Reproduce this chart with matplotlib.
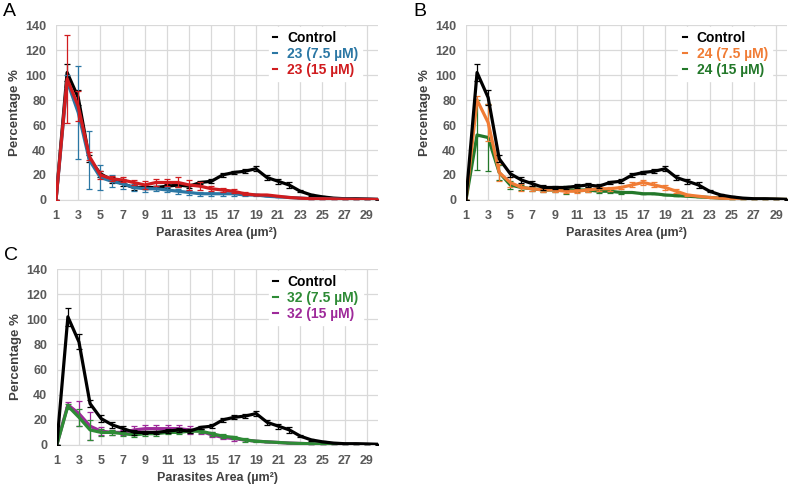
import numpy as np
from matplotlib import pyplot as plt
from matplotlib.lines import Line2D

plt.rcParams['font.family'] = ['Liberation Sans', 'DejaVu Sans']

# parasite area categories (um^2)
area = np.arange(1, 31)

# Control (same in every panel)
control = [0, 102, 82, 33, 21, 16, 13, 10, 10, 10, 11, 12, 11, 14, 15,
           20, 22, 23, 25, 18, 15, 12, 7, 4, 2.5, 1.5, 1, 1, 0.8, 0.5]
control_err = [0, 7, 6, 3, 2.5, 2.5, 2, 2, 1.5, 1.5, 1.5, 1.5, 1.5, 1.5, 1.5,
               1.5, 1.5, 1.5, 2, 2, 2, 2.5, 1, 0.5, 0.5, 0.3, 0.3, 0.3, 0.3, 0.3]

# Panel A: compound 23
c23_lo = [0, 95, 70, 32, 18, 15, 13, 10, 9, 9, 8, 7, 6, 5, 5,
          5, 5, 4, 4, 3, 2.5, 2, 1.5, 1, 1, 0.8, 0.6, 0.5, 0.5, 0.4]
c23_lo_err = [0, 5, 37, 23, 10, 5, 4, 3, 3, 2, 2, 2, 2, 1.5, 1.5,
              1.5, 1.5, 1, 1, 0, 0, 0, 0, 0, 0, 0, 0, 0, 0, 0]
c23_hi = [0, 97, 75, 35, 20, 17, 16, 14, 12, 14, 14, 14, 12, 11, 9,
          8, 7, 5, 4, 4, 3, 2, 1.5, 1, 1, 0.8, 0.6, 0.5, 0.5, 0.4]
c23_hi_err = [0, 35, 12, 3, 3, 2, 2, 2, 3, 3, 3, 4, 4, 3, 2,
              1.5, 1.5, 1, 0, 0, 0, 0, 0, 0, 0, 0, 0, 0, 0, 0]

# Panel B: compound 24
c24_lo = [0, 80, 62, 22, 14, 10, 9, 8, 8, 7, 7, 8, 9, 9, 10,
          12, 14, 12, 10, 7, 4, 3, 2, 1.5, 1, 0.8, 0.6, 0.5, 0.5, 0.4]
c24_lo_err = [0, 3, 15, 7, 4, 3, 2, 1.5, 1.5, 1.5, 1.5, 1.5, 1.5, 1.5, 1.5,
              2, 2, 2, 2, 1.5, 1, 0, 0, 0, 0, 0, 0, 0, 0, 0]
c24_hi = [0, 52, 50, 22, 12, 10, 9, 8, 8, 8, 8, 8, 7, 7, 6,
          6, 5, 5, 4, 3.5, 3, 2.5, 2, 1.5, 1, 0.8, 0.6, 0.5, 0.5, 0.4]
c24_hi_err = [0, 28, 27, 6, 3, 2, 2, 1.5, 2, 3, 2, 2, 1.5, 1.5, 1.5,
              0, 0, 0, 0, 0, 0, 0, 0, 0, 0, 0, 0, 0, 0, 0]

# Panel C: compound 32
c32_lo = [0, 31, 22, 12, 10, 10, 9, 8, 9, 9, 10, 10, 11, 11, 9,
          7, 6, 4, 3, 2.5, 2, 1.5, 1.2, 1, 0.8, 0.6, 0.5, 0.5, 0.4, 0.4]
c32_lo_err = [0, 2, 7, 8, 3, 2, 1.5, 2, 1.5, 1.5, 1.5, 1.5, 1.5, 1.5, 1.5,
              1.5, 1.5, 1.5, 1, 0, 0, 0, 0, 0, 0, 0, 0, 0, 0, 0]
c32_hi = [0, 32, 25, 15, 11, 10, 10, 12, 13, 13, 13, 13, 12, 11, 8,
          6, 5, 4, 3, 2.5, 2, 1.5, 1.2, 1, 0.8, 0.6, 0.5, 0.5, 0.4, 0.4]
c32_hi_err = [0, 2, 10, 11, 3, 2, 2, 3, 3, 3, 3, 3, 3, 2, 2,
              1.5, 1.5, 0, 0, 0, 0, 0, 0, 0, 0, 0, 0, 0, 0, 0]

panels = [
    ("A", [0.071, 0.5885, 0.408, 0.360],
     [("Control", control, control_err, "black"),
      ("23 (7.5 µM)", c23_lo, c23_lo_err, "#2B77A4"),
      ("23 (15 µM)", c23_hi, c23_hi_err, "#D01C1F")]),
    ("B", [0.5906, 0.5885, 0.407, 0.360],
     [("Control", control, control_err, "black"),
      ("24 (7.5 µM)", c24_lo, c24_lo_err, "#F07C35"),
      ("24 (15 µM)", c24_hi, c24_hi_err, "#23782A")]),
    ("C", [0.072, 0.0844, 0.407, 0.362],
     [("Control", control, control_err, "black"),
      ("32 (7.5 µM)", c32_lo, c32_lo_err, "#2E8B36"),
      ("32 (15 µM)", c32_hi, c32_hi_err, "#9E2A9A")]),
]

fig = plt.figure(figsize=(7.89, 4.86), dpi=100)

for letter, pos, series in panels:
    ax = fig.add_axes(pos)
    # in panel A the treated curves sit on top of the control
    order = [0, 1, 2] if letter == "A" else [2, 1, 0]
    for z, i in enumerate(order):
        name, vals, err, col = series[i]
        ax.errorbar(area, vals, yerr=err, color=col, lw=2.3, elinewidth=0.9,
                    capsize=2.5, capthick=0.9, zorder=3 + z)
    ax.set_xlim(1, 30)
    ax.set_ylim(0, 140)
    ax.set_xticks(np.arange(1, 30, 2))
    ax.set_yticks(np.arange(0, 141, 20))
    ax.grid(True, color="#D9D9D9", lw=0.9)
    ax.set_axisbelow(True)
    for s in ["top", "right", "left"]:
        ax.spines[s].set_visible(False)
    ax.spines["bottom"].set_color("#D9D9D9")
    ax.tick_params(length=0, labelsize=9, labelcolor="#595959", pad=7)
    for t in ax.get_xticklabels() + ax.get_yticklabels():
        t.set_fontweight("bold")
    ax.set_ylabel("Percentage %", fontsize=9.5, fontweight="bold", color="#404040", labelpad=3)
    ax.set_xlabel("Parasites Area (µm²)", fontsize=9, fontweight="bold", color="#404040", labelpad=4)

    handles = [Line2D([], [], color=s[3], lw=1.5) for s in series]
    names = [s[0] for s in series]
    leg = ax.legend(handles, names, loc="upper left",
                    bbox_to_anchor=(0.64, 1.03), frameon=True, fancybox=False,
                    edgecolor="white", facecolor="white", framealpha=1,
                    handlelength=0.3, handletextpad=0.7, borderpad=0.3,
                    labelspacing=0.15, prop={"size": 10, "weight": "bold"})
    for txt, s in zip(leg.get_texts(), series):
        txt.set_color(s[3])
    ax.text(-0.165, 1.075, letter, transform=ax.transAxes, fontsize=14,
            va="center", ha="left")

fig.savefig("out.png", dpi=100)
